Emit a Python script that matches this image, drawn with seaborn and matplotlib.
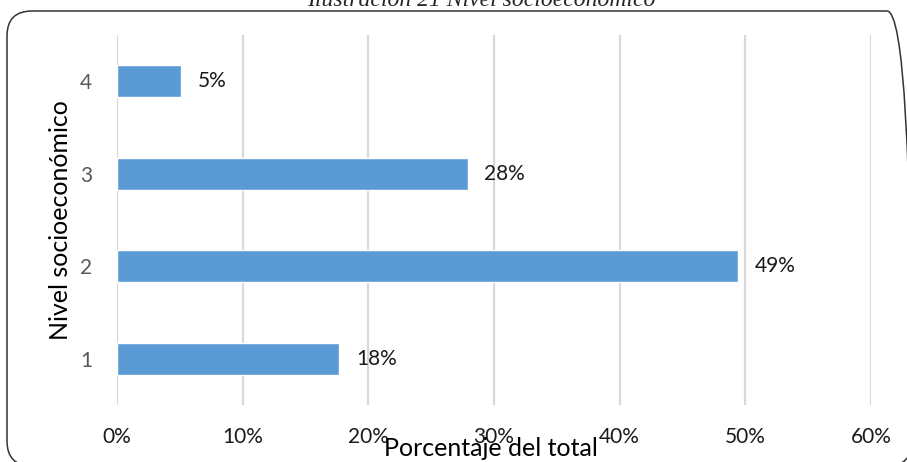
import matplotlib
matplotlib.use("Agg")
import matplotlib.pyplot as plt
from matplotlib.patches import FancyBboxPatch
import seaborn as sns
import pandas as pd

# datos
niveles = ['4', '3', '2', '1']
porcentajes = [5.1, 27.9, 49.4, 17.7]
etiquetas = ['5%', '28%', '49%', '18%']
ticks_x = [0, 10, 20, 30, 40, 50, 60]

sns.set_theme(style='white')
plt.rcParams['font.family'] = ['Lato', 'DejaVu Sans']

df = pd.DataFrame({'nivel': niveles, 'pct': porcentajes})

fig = plt.figure(figsize=(9.07, 4.62), dpi=100)
ax = fig.add_axes([117 / 907, 57 / 462, 754 / 907, 370 / 462])

sns.barplot(data=df, x='pct', y='nivel', order=niveles, orient='h',
            color='#5B9BD5', saturation=1, width=0.35, ax=ax, zorder=3)

ax.bar_label(ax.containers[0], labels=etiquetas, padding=12,
             fontsize=15, color='#1a1a1a')

ax.set_xlim(0, 60)
ax.set_ylim(3.5, -0.5)
ax.set_xticks(ticks_x)
ax.set_xticklabels([f'{t}%' for t in ticks_x])
ax.grid(axis='x', color='#D9D9D9', linewidth=1.6, zorder=0)
ax.grid(axis='y', visible=False)
for s in ax.spines.values():
    s.set_visible(False)
ax.tick_params(axis='x', length=0, pad=16, labelsize=15, labelcolor='#1a1a1a')
ax.tick_params(axis='y', length=0, pad=18, labelsize=15, labelcolor='#595959')

ax.set_xlabel('Porcentaje del total', fontsize=18, color='black')
ax.xaxis.set_label_coords(0.496, -0.117)
ax.xaxis.label.set_va('center')
ax.set_ylabel('Nivel socioeconómico', fontsize=18, color='black')
ax.yaxis.set_label_coords(-0.075, 0.5)
ax.yaxis.label.set_va('center')

# marco redondeado del gráfico
marco = FancyBboxPatch((0.07, -0.04), 9.05, 4.55,
                       boxstyle='round,pad=0,rounding_size=0.25',
                       transform=fig.dpi_scale_trans, fill=False,
                       edgecolor='#333333', linewidth=1.1, clip_on=False)
fig.patches.append(marco)

# título (recortado en la parte superior, como en la imagen)
fig.text(481 / 907, (462 - 6) / 462, 'Ilustración 21 Nivel socioeconómico',
         ha='center', va='baseline', fontsize=17, style='italic',
         family=['Liberation Serif', 'DejaVu Serif'])

fig.savefig('out.png', dpi=100)
